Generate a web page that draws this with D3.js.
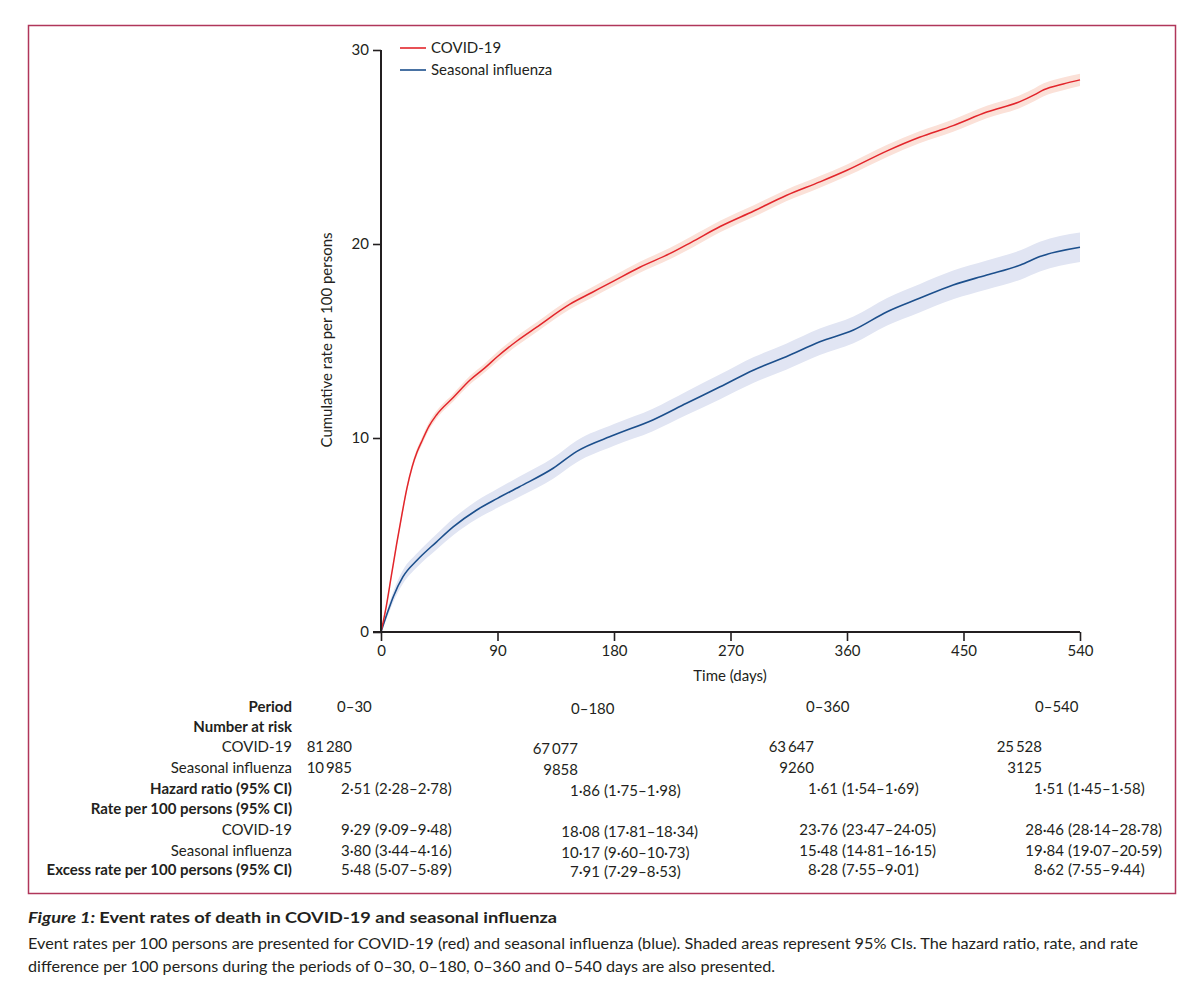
<!DOCTYPE html>
<html>
<head>
<meta charset="utf-8">
<script src="https://cdn.jsdelivr.net/npm/d3@7"></script>
<style>
  body { margin: 0; background: #fff; }
  svg text { font-family: Lato, "Open Sans", sans-serif; fill: #231f20; }
</style>
</head>
<body>
<svg id="chart" width="1200" height="990"></svg>
<script>
// curve readings (days, cumulative rate per 100 persons)
var covidDays = [0, 4, 8, 12, 16, 20, 24, 28, 32, 37, 43, 56, 69, 80, 90, 105, 120, 146, 163, 180, 200, 223, 240, 262, 288, 313, 339, 360, 391, 416, 442, 468, 494, 505, 512, 527, 540];
var covidRate = [0, 1.3, 2.9, 4.5, 6.0, 7.4, 8.5, 9.3, 9.9, 10.6, 11.2, 12.1, 13.0, 13.6, 14.2, 15.0, 15.7, 16.9, 17.5, 18.1, 18.8, 19.5, 20.1, 20.9, 21.7, 22.5, 23.2, 23.8, 24.8, 25.5, 26.1, 26.8, 27.35, 27.7, 27.95, 28.25, 28.46];
var covidLow  = [0, 1.2, 2.78, 4.36, 5.85, 7.25, 8.33, 9.12, 9.71, 10.4, 11.0, 11.9, 12.78, 13.37, 13.96, 14.75, 15.45, 16.64, 17.23, 17.83, 18.52, 19.21, 19.8, 20.6, 21.4, 22.2, 22.9, 23.5, 24.49, 25.19, 25.78, 26.48, 27.02, 27.37, 27.62, 27.92, 28.14];
var covidHigh = [0, 1.4, 3.02, 4.64, 6.15, 7.55, 8.67, 9.48, 10.09, 10.8, 11.4, 12.3, 13.22, 13.83, 14.44, 15.25, 15.95, 17.16, 17.77, 18.37, 19.08, 19.79, 20.4, 21.2, 22.0, 22.8, 23.5, 24.1, 25.11, 25.81, 26.42, 27.12, 27.68, 28.03, 28.28, 28.58, 28.78];

var fluDays = [0, 5, 9.5, 17, 28, 43, 56, 74, 90, 107, 133, 151, 180, 210, 236, 262, 288, 313, 339, 365, 391, 416, 442, 468, 494, 509, 540];
var fluRate = [0, 1.0, 1.82, 2.85, 3.71, 4.65, 5.43, 6.29, 6.89, 7.49, 8.44, 9.30, 10.15, 10.93, 11.79, 12.64, 13.51, 14.19, 14.96, 15.57, 16.51, 17.2, 17.89, 18.40, 18.92, 19.35, 19.83];
var fluLow  = [0, 0.8, 1.55, 2.5, 3.35, 4.25, 5.0, 5.82, 6.4, 6.97, 7.9, 8.74, 9.6, 10.35, 11.18, 12.0, 12.85, 13.52, 14.28, 14.88, 15.8, 16.47, 17.15, 17.65, 18.16, 18.58, 19.07];
var fluHigh = [0, 1.2, 2.09, 3.2, 4.07, 5.05, 5.86, 6.76, 7.38, 8.01, 8.98, 9.86, 10.72, 11.51, 12.4, 13.28, 14.17, 14.86, 15.64, 16.26, 17.22, 17.93, 18.63, 19.15, 19.68, 20.12, 20.59];

var xTicks = [0, 90, 180, 270, 360, 450, 540];
var yTicks = [0, 10, 20, 30];
var legendLabels = ["COVID-19", "Seasonal influenza"];

// table below the plot
var rowLabels = ["Period", "Number at risk", "COVID-19", "Seasonal influenza", "Hazard ratio (95% CI)",
  "Rate per 100 persons (95% CI)", "COVID-19", "Seasonal influenza", "Excess rate per 100 persons (95% CI)"];
var boldRows = [0, 1, 4, 5, 8];
var periods = ["0–30", "0–180", "0–360", "0–540"];
var riskCovid = ["81\u2009280", "67\u2009077", "63\u2009647", "25\u2009528"];
var riskFlu = ["10\u2009985", "9858", "9260", "3125"];
var hrEst = ["2·51", "1·86", "1·61", "1·51"];
var hrCI = ["(2·28–2·78)", "(1·75–1·98)", "(1·54–1·69)", "(1·45–1·58)"];
var covidEst = ["9·29", "18·08", "23·76", "28·46"];
var covidCI = ["(9·09–9·48)", "(17·81–18·34)", "(23·47–24·05)", "(28·14–28·78)"];
var fluEst = ["3·80", "10·17", "15·48", "19·84"];
var fluCI = ["(3·44–4·16)", "(9·60–10·73)", "(14·81–16·15)", "(19·07–20·59)"];
var excessEst = ["5·48", "7·91", "8·28", "8·62"];
var excessCI = ["(5·07–5·89)", "(7·29–8·53)", "(7·55–9·01)", "(7·55–9·44)"];

var captionTitle = "Event rates of death in COVID-19 and seasonal influenza";
var captionLines = [
  "Event rates per 100 persons are presented for COVID-19 (red) and seasonal influenza (blue). Shaded areas represent 95% CIs. The hazard ratio, rate, and rate",
  "difference per 100 persons during the periods of 0–30, 0–180, 0–360 and 0–540 days are also presented."
];

var RED = "#e2252b", BLUE = "#1c4f8c";

var svg = d3.select("#chart");

// frame
svg.append("rect")
  .attr("x", 28.5).attr("y", 25.5)
  .attr("width", 1147).attr("height", 868)
  .attr("fill", "none")
  .attr("stroke", "#b0365a")
  .attr("stroke-width", 1.5);

var x = d3.scaleLinear().domain([0, 540]).range([381, 1080]);
var y = d3.scaleLinear().domain([0, 30]).range([632, 50]);

function bandData(days, low, high){
  return days.map(function(d, i){ return {d: d, lo: low[i], hi: high[i]}; });
}
function lineData(days, rate){
  return days.map(function(d, i){ return {d: d, v: rate[i]}; });
}

var area = d3.area()
  .x(function(p){ return x(p.d); })
  .y0(function(p){ return y(p.lo); })
  .y1(function(p){ return y(p.hi); })
  .curve(d3.curveMonotoneX);

var line = d3.line()
  .x(function(p){ return x(p.d); })
  .y(function(p){ return y(p.v); })
  .curve(d3.curveMonotoneX);

svg.append("path")
  .datum(bandData(fluDays, fluLow, fluHigh))
  .attr("d", area)
  .attr("fill", "#e1e5f3");

svg.append("path")
  .datum(bandData(covidDays, covidLow, covidHigh))
  .attr("d", area)
  .attr("fill", "#fbe1d8");

svg.append("path")
  .datum(lineData(fluDays, fluRate))
  .attr("d", line)
  .attr("fill", "none")
  .attr("stroke", BLUE)
  .attr("stroke-width", 1.6);

svg.append("path")
  .datum(lineData(covidDays, covidRate))
  .attr("d", line)
  .attr("fill", "none")
  .attr("stroke", RED)
  .attr("stroke-width", 1.5);

// axes
var xAxis = svg.append("g")
  .attr("transform", "translate(0," + y(0) + ")")
  .call(d3.axisBottom(x).tickValues(xTicks).tickSize(9).tickPadding(4));

var yAxis = svg.append("g")
  .attr("transform", "translate(" + x(0) + ",0)")
  .call(d3.axisLeft(y).tickValues(yTicks).tickSize(8).tickPadding(4));

[xAxis, yAxis].forEach(function(g){
  g.select(".domain").attr("stroke", "#231f20").attr("stroke-width", 2);
  g.selectAll(".tick line").attr("stroke", "#231f20").attr("stroke-width", 1.6);
  g.selectAll(".tick text").attr("font-size", 15).attr("font-family", "Lato, sans-serif").attr("fill", "#231f20");
});
// x axis starts at the y-axis tick
xAxis.select(".domain").attr("d", "M" + (x(0) - 8) + ",0H" + x(540));
yAxis.select(".domain").attr("d", "M0," + y(0) + "V" + y(30));

svg.append("text")
  .attr("x", 730).attr("y", 681)
  .attr("text-anchor", "middle")
  .attr("font-size", 15)
  .text("Time (days)");

svg.append("text")
  .attr("transform", "translate(332,340) rotate(-90)")
  .attr("text-anchor", "middle")
  .attr("font-size", 15)
  .text("Cumulative rate per 100 persons");

// legend
var legend = svg.append("g");
legendLabels.forEach(function(lab, i){
  var ly = 48 + i * 22;
  legend.append("line")
    .attr("x1", 400).attr("x2", 426)
    .attr("y1", ly).attr("y2", ly)
    .attr("stroke", i === 0 ? RED : BLUE)
    .attr("stroke-width", 1.6);
  legend.append("text")
    .attr("x", 431).attr("y", ly)
    .attr("dy", "0.35em")
    .attr("font-size", 15)
    .text(lab);
});

// table
var rowY = [707, 727, 747, 768, 789, 809, 830, 851, 870];
var periodLeft = [337, 571, 806, 1035];
var riskRight = [352, 578, 814, 1042];
var estRight = [371, 600, 838, 1064];
var colDy = [0, 2, 0, 0];

var table = svg.append("g").attr("font-size", 15);

rowLabels.forEach(function(lab, i){
  table.append("text")
    .attr("x", 292).attr("y", rowY[i])
    .attr("dy", "0.35em")
    .attr("text-anchor", "end")
    .attr("font-weight", boldRows.indexOf(i) >= 0 ? "bold" : "normal")
    .text(lab);
});

function putText(txt, xx, yy, anchor){
  table.append("text")
    .attr("x", xx).attr("y", yy)
    .attr("dy", "0.35em")
    .attr("text-anchor", anchor)
    .text(txt);
}

function statRow(row, est, ci){
  est.forEach(function(e, c){
    var yy = rowY[row] + colDy[c];
    putText(e, estRight[c], yy, "end");
    putText(ci[c], estRight[c] + 4, yy, "start");
  });
}

periods.forEach(function(p, c){ putText(p, periodLeft[c], rowY[0] + colDy[c], "start"); });
riskCovid.forEach(function(r, c){ putText(r, riskRight[c], rowY[2] + colDy[c], "end"); });
riskFlu.forEach(function(r, c){ putText(r, riskRight[c], rowY[3] + colDy[c], "end"); });
statRow(4, hrEst, hrCI);
statRow(6, covidEst, covidCI);
statRow(7, fluEst, fluCI);
statRow(8, excessEst, excessCI);

// caption
var cap = svg.append("text")
  .attr("x", 28).attr("y", 923)
  .attr("font-size", 16)
  .attr("font-weight", "bold")
  .attr("textLength", 529)
  .attr("lengthAdjust", "spacingAndGlyphs");
cap.append("tspan").attr("font-style", "italic").text("Figure 1: ");
cap.append("tspan").text(captionTitle);

captionLines.forEach(function(l, i){
  svg.append("text")
    .attr("x", 28).attr("y", 949 + i * 23)
    .attr("font-size", 16)
    .attr("textLength", i === 0 ? 1110 : 747)
    .attr("lengthAdjust", "spacingAndGlyphs")
    .text(l);
});
</script>
</body>
</html>
